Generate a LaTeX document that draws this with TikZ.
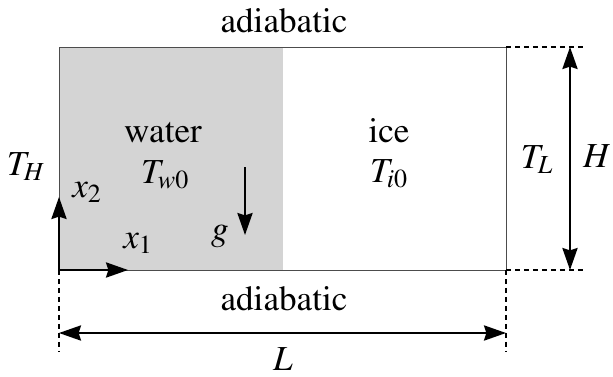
\documentclass[tikz,border=0pt]{standalone}
\usepackage[T1]{fontenc}
\usepackage{mathptmx}
\usetikzlibrary{arrows.meta}
\tikzset{
  lbl/.style={anchor=base,inner sep=0pt,font=\fontsize{25}{30}\selectfont},
  arr/.style={line width=1.4pt,-{Stealth[length=5.5mm,width=3.8mm,inset=0.6mm]}},
  darr/.style={line width=1.4pt,{Stealth[length=5.5mm,width=3.8mm,inset=0.6mm]}-{Stealth[length=5.5mm,width=3.8mm,inset=0.6mm]}},
  guide/.style={line width=1.4pt,dash pattern=on 3.6pt off 2.8pt}
}
\begin{document}
\begin{tikzpicture}
  \useasboundingbox (-1.475,-2.65) rectangle (13.85,6.75);
  % corners of the cavity
  \coordinate (sw) at (0,0);
  \coordinate (se) at (11.175,0);
  \coordinate (ne) at (11.175,5.575);
  \coordinate (nw) at (0,5.575);
  \coordinate (front) at (5.6,5.575);

  \fill[black!17] (sw) rectangle (front);
  \draw[black!70,line width=0.7pt] (sw) rectangle (ne);

  % dashed guides
  \coordinate (ne out) at (13.175,5.575);
  \coordinate (se out) at (13.175,0);
  \coordinate (sw low) at (0,-2.05);
  \coordinate (se low) at (11.175,-2.05);
  \draw[guide] (ne) -- (ne out);
  \draw[guide] (se) -- (se out);
  \draw[guide] (sw) -- (sw low);
  \draw[guide] (se) -- (se low);

  % dimensions
  \coordinate (L left) at (0,-1.575);
  \coordinate (L right) at (11.175,-1.575);
  \draw[darr] (L left) -- (L right);
  \coordinate (H top) at (12.775,5.575);
  \coordinate (H bot) at (12.775,0);
  \draw[darr] (H top) -- (H bot);

  % axes
  \coordinate (x1 end) at (1.725,0);
  \coordinate (x2 end) at (0,1.825);
  \draw[arr] (sw) -- (x1 end);
  \draw[arr] (sw) -- (x2 end);

  % gravity
  \coordinate (g top) at (4.65,2.575);
  \coordinate (g bot) at (4.65,0.875);
  \draw[arr] (g top) -- (g bot);

  % labels
  \node[lbl] (adtop) at (5.625,5.95) {adiabatic};
  \node[lbl] (adbot) at (5.625,-1.0) {adiabatic};
  \node[lbl] (water) at (2.6,3.2) {water};
  \node[lbl] (Tw) at (2.65,2.175) {$T_{w0}$};
  \node[lbl] (ice) at (8.25,3.2) {ice};
  \node[lbl] (Ti) at (8.25,2.2) {$T_{i0}$};
  \node[lbl] (TH) at (-0.825,2.375) {$T_H$};
  \node[lbl] (TL) at (11.95,2.55) {$T_L$};
  \node[lbl] (Hl) at (13.45,2.575) {$H$};
  \node[lbl] (x2) at (0.7,1.825) {$x_2$};
  \node[lbl] (x1) at (1.975,0.55) {$x_1$};
  \node[lbl] (g) at (4.025,0.75) {$g$};
  \node[lbl] (Ll) at (5.6,-2.5) {$L$};
\end{tikzpicture}
\end{document}
